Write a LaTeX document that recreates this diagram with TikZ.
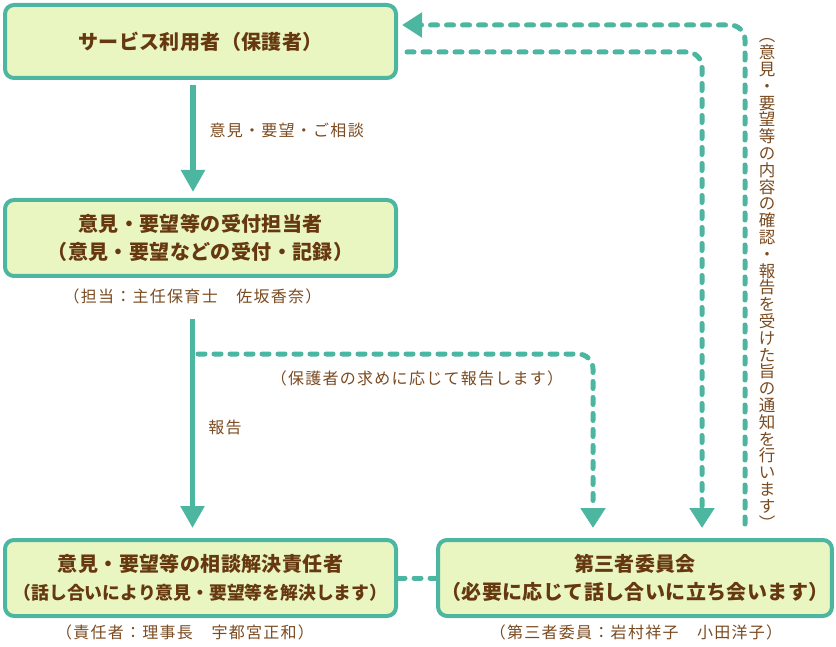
\documentclass[tikz,border=0pt]{standalone}
\usepackage{fontspec}
\setmainfont{Noto Sans CJK JP}
\usetikzlibrary{positioning, arrows.meta}
\definecolor{boxline}{HTML}{4DB6A0}
\definecolor{boxfill}{HTML}{EAF6C2}
\definecolor{boxtext}{HTML}{663810}
\definecolor{notetext}{HTML}{7A4A20}
\tikzset{
box/.style={draw=boxline, line width=4pt, fill=boxfill, rounded corners=9pt, minimum width=391pt, minimum height=76pt, align=center, text=boxtext, font=\fontsize{20}{28}\selectfont\bfseries\addfontfeature{LetterSpace=2}}, % the four boxes
note/.style={text=notetext, font=\fontsize{16}{18}\selectfont\addfontfeature{LetterSpace=8}}, % small brown texts
flow/.style={draw=boxline, line width=5.5pt, -{Triangle[width=23pt,length=22pt]}}, % solid arrows
dashflow/.style={draw=boxline, line width=5pt, line cap=round, dash pattern=on 7pt off 9pt, rounded corners=15pt}, % dashed lines
dashtip/.style={-{Triangle[width=24pt,length=20pt]}},
}

\begin{document}
\begin{tikzpicture}[x=1pt, y=-1pt]
    \useasboundingbox (0,0) rectangle (836,647);
    \node[box, minimum height=73pt] (user) at (200.5,41.5) {サービス利用者（保護者）};
    \node[box] (desk) at (200.5,238) {意見・要望等の受付担当者\\（意見・要望などの受付・記録）};
    \node[note, below=7pt of desk, xshift=-8pt] (deskname) {（担当：主任保育士　佐坂香奈）};
    \node[box] (lead) at (200.5,578) {意見・要望等の相談解決責任者\\\fontsize{17.8}{28}\selectfont\addfontfeature{LetterSpace=0}（話し合いにより意見・要望等を解決します）};
    \node[note, below=3pt of lead, xshift=-15.5pt] (leadname) {（責任者：理事長　宇都宮正和）};
    \node[box, minimum width=392pt] (panel) at (635,578) {第三者委員会\\（必要に応じて話し合いに立ち会います）};
    \node[note, below=3pt of panel, xshift=1pt] (panelname) {（第三者委員：岩村祥子　小田洋子）};

    \node[note, anchor=west] (asklabel) at (206,130) {意見・要望・ご相談};
    \node[note] (reportlabel) at (225,427) {報告};
    \node[note] (requestlabel) at (417,378) {（保護者の求めに応じて報告します）};
    \node[text=notetext, font=\fontsize{16.5}{16.8}\selectfont, align=center, inner sep=0pt] (notice) at (767,284)
        {︵\\意\\見\\・\\要\\望\\等\\の\\内\\容\\の\\確\\認\\・\\報\\告\\を\\受\\け\\た\\旨\\の\\通\\知\\を\\行\\い\\ま\\す\\︶};

    \coordinate (branch) at (198,354);
    \draw[flow, shorten <=5pt, shorten >=6pt] ([xshift=-7.5pt]user.south) -- ([xshift=-7.5pt]desk.north);
    \draw[flow, shorten <=12pt, shorten >=10pt] (deskname.south) -- (deskname.south |- lead.north);
    \draw[dashflow, dashtip, shorten >=10pt] (branch) -| ([xshift=-42pt]panel.north);
    \draw[dashflow, dashtip, shorten <=9pt, shorten >=10pt] ([yshift=-10.5pt]user.east) -| ([xshift=67pt]panel.north);
    \draw[dashflow, dashtip, shorten <=14pt, shorten >=4pt] ([xshift=110pt]panel.north) |- ([yshift=16.5pt]user.east);
    \draw[dashflow] (lead.east) -- (panel.west);
\end{tikzpicture}
\end{document}
